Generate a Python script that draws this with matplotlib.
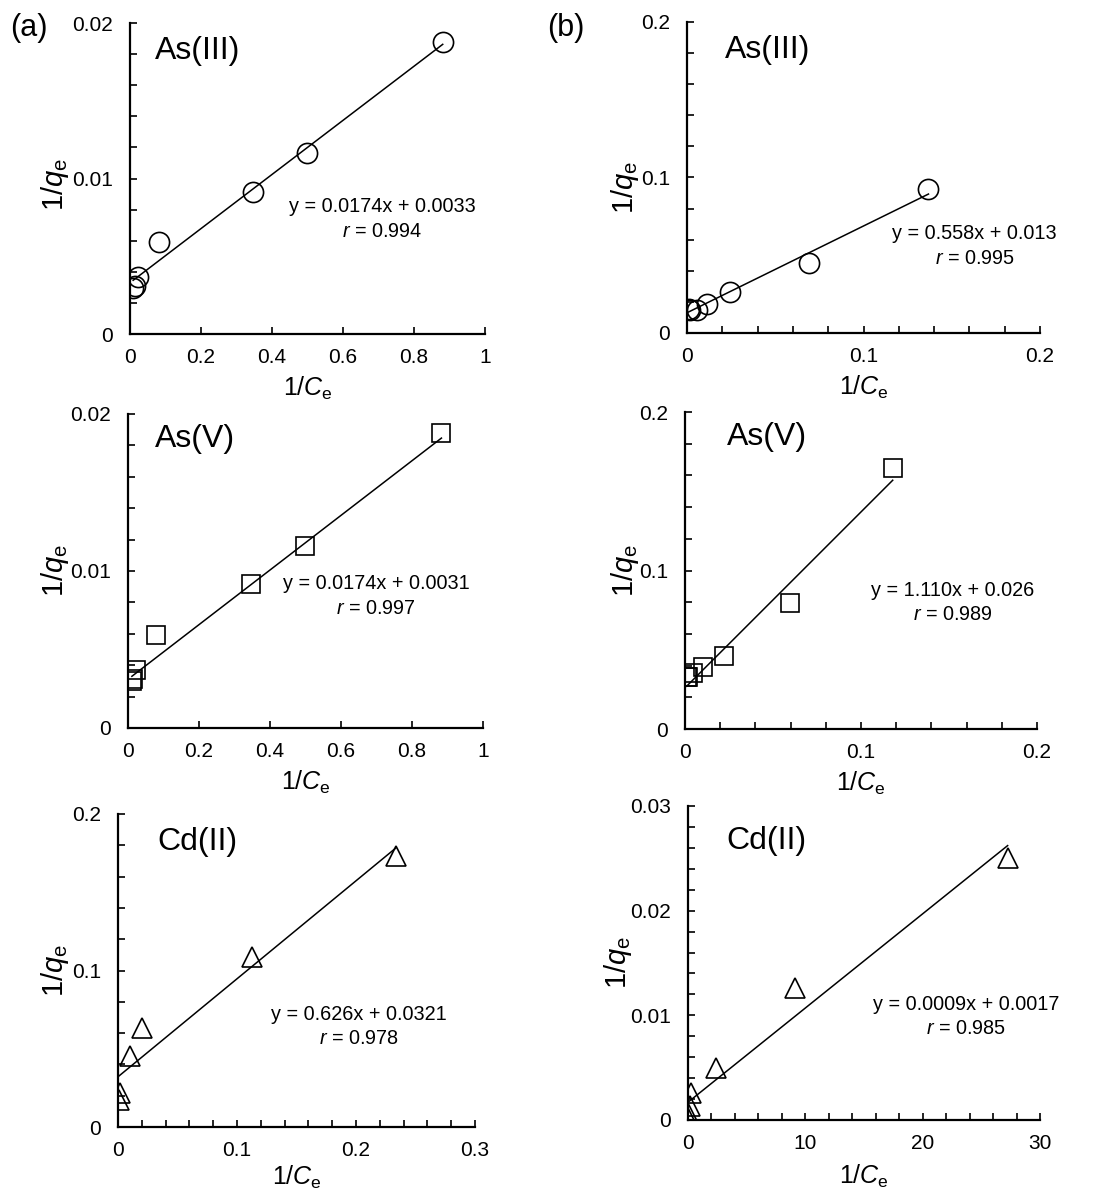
#!/usr/bin/env python3
"""Linearised Langmuir plots (1/qe vs 1/Ce) for As(III), As(V), Cd(II) on two sorbents."""

import matplotlib
matplotlib.use("Agg")
import matplotlib.pyplot as plt
from matplotlib.ticker import MultipleLocator, FuncFormatter

plt.rcParams["font.family"] = ["Liberation Sans", "DejaVu Sans"]
plt.rcParams["mathtext.fontset"] = "custom"
plt.rcParams["mathtext.rm"] = "Liberation Sans"
plt.rcParams["mathtext.it"] = "Liberation Sans:italic"

# ---- data ----
a_as3_x = [0.881, 0.498, 0.347, 0.082, 0.0216, 0.014, 0.009]
a_as3_y = [0.01878, 0.01161, 0.00914, 0.00593, 0.00368, 0.00308, 0.00293]
b_as3_x = [0.1368, 0.0689, 0.0245, 0.0113, 0.0057, 0.0019, 0.0009]
b_as3_y = [0.0926, 0.0449, 0.0263, 0.0188, 0.0150, 0.0150, 0.0154]

a_as5_x = [0.883, 0.498, 0.347, 0.080, 0.0216, 0.014, 0.011]
a_as5_y = [0.01877, 0.01158, 0.00914, 0.00595, 0.00368, 0.00315, 0.00298]
b_as5_x = [0.118, 0.0597, 0.0224, 0.0104, 0.0047, 0.0019, 0.0009]
b_as5_y = [0.165, 0.0793, 0.0463, 0.0389, 0.0351, 0.0326, 0.0326]

a_cd_x = [0.2335, 0.1127, 0.0205, 0.0098, 0.0014, 0.0006]
a_cd_y = [0.1729, 0.1089, 0.0630, 0.0452, 0.0220, 0.0171]
b_cd_x = [27.24, 9.09, 2.41, 0.28, 0.2, 0.03, 0.01]
b_cd_y = [0.0250, 0.01258, 0.00494, 0.00255, 0.00134, 0.00064, 0.00016]

slopes = [0.0174, 0.558, 0.0174, 1.110, 0.626, 0.0009]
intercepts = [0.0033, 0.013, 0.0031, 0.026, 0.0321, 0.0017]
equations = ["y = 0.0174x + 0.0033", "y = 0.558x + 0.013",
             "y = 0.0174x + 0.0031", "y = 1.110x + 0.026",
             "y = 0.626x + 0.0321", "y = 0.0009x + 0.0017"]
r_values = ["0.994", "0.995", "0.997", "0.989", "0.978", "0.985"]
species = ["As(III)", "As(III)", "As(V)", "As(V)", "Cd(II)", "Cd(II)"]

xs = [a_as3_x, b_as3_x, a_as5_x, b_as5_x, a_cd_x, b_cd_x]
ys = [a_as3_y, b_as3_y, a_as5_y, b_as5_y, a_cd_y, b_cd_y]
markers = ["o", "o", "s", "s", "^", "^"]
msizes = [14.5, 14.5, 13, 13, 14, 14]

# limits and ticks: (xmax, x major, x minor, ymax, y major, y minor)
axis_cfg = [
    (1.0, 0.2, None, 0.02, 0.01, 0.002),
    (0.2, 0.1, 0.02, 0.2, 0.1, 0.02),
    (1.0, 0.2, None, 0.02, 0.01, 0.002),
    (0.2, 0.1, 0.02, 0.2, 0.1, 0.02),
    (0.3, 0.1, 0.02, 0.2, 0.1, 0.02),
    (30, 10, 2, 0.03, 0.01, 0.002),
]

# layout (figure fractions) and text placements (axes fractions)
rects = [
    [0.1172, 0.7200, 0.3201, 0.2607],
    [0.6195, 0.7209, 0.3183, 0.2607],
    [0.1154, 0.3898, 0.3201, 0.2632],
    [0.6177, 0.3889, 0.3174, 0.2657],
    [0.1064, 0.0553, 0.3219, 0.2624],
    [0.6204, 0.0612, 0.3174, 0.2632],
]
species_pos = [(0.07, 0.91), (0.108, 0.91), (0.076, 0.92),
               (0.12, 0.92), (0.11, 0.91), (0.11, 0.89)]
eq_pos = [(0.71, 0.37), (0.815, 0.28), (0.70, 0.42),
          (0.76, 0.40), (0.675, 0.32), (0.79, 0.33)]
ylab_pos = [(-0.211, 0.48), (-0.176, 0.466), (-0.206, 0.50),
            (-0.17, 0.50), (-0.176, 0.50), (-0.20, 0.50)]
xlab_pos = [-0.174, -0.174, -0.172, -0.172, -0.16, -0.18]


def fmt(v, _pos):
    return f"{v:g}"


fig = plt.figure(figsize=(11.09, 11.93), dpi=100)

for i in range(6):
    ax = fig.add_axes(rects[i])
    x, y = xs[i], ys[i]
    ax.plot(x, y, linestyle="none", marker=markers[i], markersize=msizes[i],
            markerfacecolor="none", markeredgecolor="black", markeredgewidth=1.2)
    x0, x1 = min(x), max(x)
    ax.plot([x0, x1], [slopes[i] * x0 + intercepts[i], slopes[i] * x1 + intercepts[i]],
            color="black", linewidth=1.1)

    xmax, xmaj, xmin_, ymax, ymaj, ymin_ = axis_cfg[i]
    ax.set_xlim(0, xmax)
    ax.set_ylim(0, ymax)
    ax.xaxis.set_major_locator(MultipleLocator(xmaj))
    if xmin_:
        ax.xaxis.set_minor_locator(MultipleLocator(xmin_))
    ax.yaxis.set_major_locator(MultipleLocator(ymaj))
    ax.yaxis.set_minor_locator(MultipleLocator(ymin_))
    ax.xaxis.set_major_formatter(FuncFormatter(fmt))
    ax.yaxis.set_major_formatter(FuncFormatter(fmt))

    for s in ("top", "right"):
        ax.spines[s].set_visible(False)
    for s in ("left", "bottom"):
        ax.spines[s].set_linewidth(1.6)
    ax.tick_params(which="both", direction="in", width=1.2, labelsize=15)
    ax.tick_params(which="major", length=5)
    ax.tick_params(which="minor", length=5)
    ax.tick_params(axis="x", pad=10)
    ax.tick_params(axis="y", pad=12)

    ax.set_xlabel(r"1/$\mathit{C}_{\mathrm{e}}$", fontsize=18, va="center")
    ax.xaxis.set_label_coords(0.5, xlab_pos[i])
    ax.set_ylabel(r"1/$\mathit{q}_{\mathrm{e}}$", fontsize=21, va="center")
    ax.yaxis.set_label_coords(*ylab_pos[i])

    ax.text(*species_pos[i], species[i], transform=ax.transAxes,
            fontsize=23, ha="left", va="center")
    ax.text(*eq_pos[i], equations[i] + "\n" + r"$\mathit{r}$ = " + r_values[i],
            transform=ax.transAxes, fontsize=14.3, ha="center", va="center",
            multialignment="center", linespacing=1.35)

fig.text(10 / 1109, 1 - 28 / 1193, "(a)", fontsize=22, ha="left", va="center")
fig.text(547 / 1109, 1 - 28 / 1193, "(b)", fontsize=22, ha="left", va="center")

fig.savefig("out.png", dpi=100)
